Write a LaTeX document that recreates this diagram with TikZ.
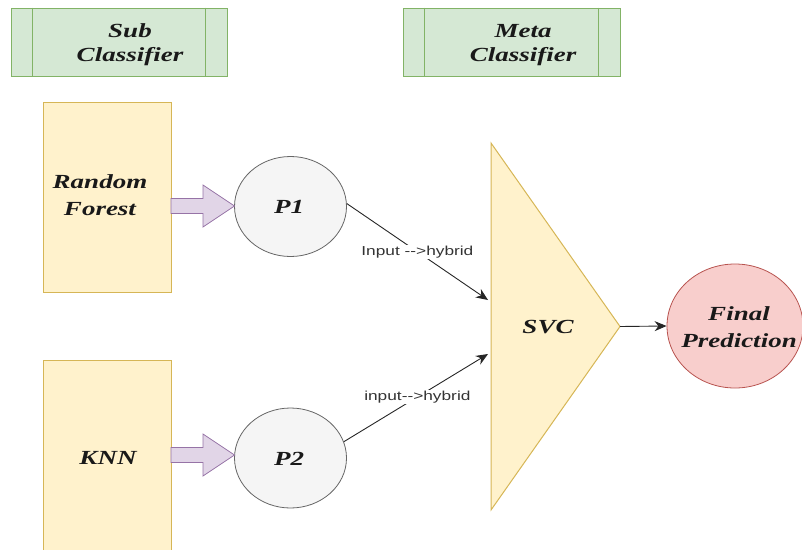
\documentclass[tikz,border=0pt]{standalone}
\usepackage{fontspec}
\setmainfont{Liberation Serif}
\setsansfont{Liberation Sans}
\usetikzlibrary{arrows.meta,shapes.geometric}
\definecolor{grfill}{HTML}{D5E8D4}\definecolor{grline}{HTML}{82B366}
\definecolor{yefill}{HTML}{FFF2CC}\definecolor{yeline}{HTML}{D6B656}
\definecolor{pufill}{HTML}{E1D5E7}\definecolor{puline}{HTML}{9673A6}
\definecolor{gyfill}{HTML}{F5F5F5}\definecolor{gyline}{HTML}{666666}
\definecolor{rdfill}{HTML}{F8CECC}\definecolor{rdline}{HTML}{B85450}
% horizontally widened text
\newcommand\wtxt[1]{\scalebox{1.35}[1]{#1}}
\newcommand\wlbl[1]{\scalebox{1.33}[1]{#1}}
\tikzset{
  lbl/.style={font=\fontsize{20}{25}\selectfont\bfseries\itshape, align=center, text=black!90},
  header/.style={draw=grline, fill=grfill, line width=1pt, minimum width=216pt, minimum height=68pt, inner sep=0pt},
  model/.style={draw=yeline, fill=yefill, line width=1pt, minimum width=128pt, inner sep=0pt},
  pnode/.style={ellipse, draw=gyline, fill=gyfill, line width=0.8pt, minimum width=112pt, minimum height=100pt, inner sep=0pt},
  flow/.style={-{Stealth[length=12pt,width=10pt]}, line width=0.9pt, black!85},
  edgelbl/.style={font=\sffamily\fontsize{13}{15}\selectfont, text=black!80, fill=white, inner sep=1pt},
}
\begin{document}
\begin{tikzpicture}[x=1pt,y=-1pt]
\useasboundingbox (0,0) rectangle (802,549);
\clip (0,0) rectangle (802,549);

% column headers (process boxes with side bars)
\node[header] (hsub) at (119,42) {};
\draw[grline, line width=1pt] ([xshift=22pt]hsub.north west) -- ([xshift=22pt]hsub.south west)
  ([xshift=-22pt]hsub.north east) -- ([xshift=-22pt]hsub.south east);
\node[lbl, font=\fontsize{20}{24}\selectfont\bfseries\itshape] at (130,45) {\wtxt{Sub}\\\wtxt{Classifier}};

\node[header, minimum width=217pt] (hmeta) at (511.5,42) {};
\draw[grline, line width=1pt] ([xshift=22pt]hmeta.north west) -- ([xshift=22pt]hmeta.south west)
  ([xshift=-22pt]hmeta.north east) -- ([xshift=-22pt]hmeta.south east);
\node[lbl, font=\fontsize{20}{24}\selectfont\bfseries\itshape] at (523,45) {\wtxt{Meta}\\\wtxt{Classifier}};

% base learners
\node[model, minimum height=190pt] (rf) at (107,197) {};
\node[lbl, font=\fontsize{20}{27}\selectfont\bfseries\itshape] at (100,195) {\wtxt{Random}\\\wtxt{Forest}};
\node[model, minimum height=230pt] (knn) at (107,475) {};
\node[lbl] at (108,458) {\wtxt{KNN}};

% predictions
\node[pnode] (p1) at (290.5,206.5) {};
\node[lbl] at (289,207) {\wtxt{P1}};
\node[pnode] (p2) at (290.5,458) {};
\node[lbl] at (289,459) {\wtxt{P2}};

% block arrows from learners to predictions
\draw[draw=puline, fill=pufill, line width=0.8pt]
  (171,198.5) -- (203,198.5) -- (203,185) -- (234.5,206) -- (203,227) -- (203,213.5) -- (171,213.5) -- cycle;
\draw[draw=puline, fill=pufill, line width=0.8pt]
  (171,447.5) -- (203,447.5) -- (203,434) -- (234.5,455) -- (203,476) -- (203,462.5) -- (171,462.5) -- cycle;

% meta classifier
\draw[draw=yeline, fill=yefill, line width=1pt] (491,143) coordinate (svcnw) -- (620,326.5) coordinate (svctip)
  -- (491,510) coordinate (svcsw) -- cycle;
\node[lbl] (svc) at (548,327) {\wtxt{SVC}};
\coordinate (in1) at (488,300);
\coordinate (in2) at (488,354);

% final output
\node[ellipse, draw=rdline, fill=rdfill, line width=0.8pt, minimum width=136pt, minimum height=124pt, inner sep=0pt] (fp) at (735,326) {};
\node[lbl, font=\fontsize{20}{27}\selectfont\bfseries\itshape] at (739,327) {\wtxt{Final}\\\wtxt{Prediction}};

% connectors
\draw[flow] (p1.3) -- node[edgelbl, pos=0.5] {\wlbl{Input -{}->hybrid}} (in1);
\draw[flow] (p2.17) -- node[edgelbl, pos=0.51] {\wlbl{input-{}->hybrid}} (in2);
\draw[flow] (svctip) -- (fp.west);
\end{tikzpicture}
\end{document}
